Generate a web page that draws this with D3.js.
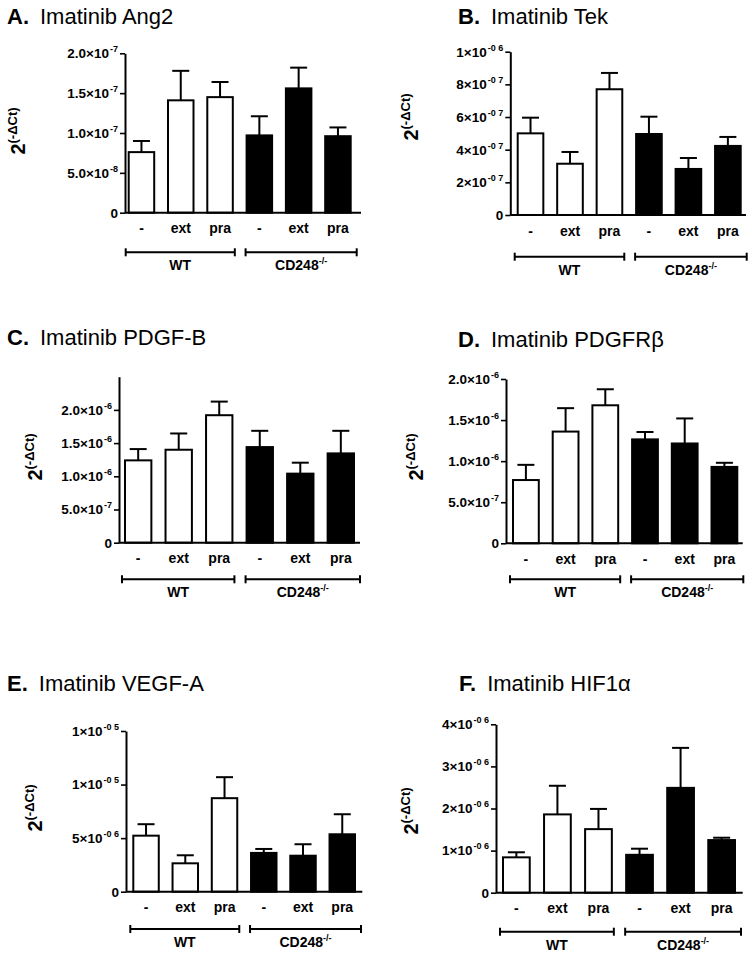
<!DOCTYPE html>
<html>
<head>
<meta charset="utf-8">
<script src="https://cdn.jsdelivr.net/npm/d3@7"></script>
<style>
  body { margin: 0; background: #fff; }
  svg text { font-family: "Liberation Sans", Arial, Helvetica, sans-serif; }
</style>
</head>
<body>
<script>
// categorias y grupos
var categories = ["-", "ext", "pra", "-", "ext", "pra"];
var genotypes = ["WT", "CD248"];

// medias y error (SEM)
var ang2Mean = [0.76e-7, 1.41e-7, 1.45e-7, 0.97e-7, 1.56e-7, 0.96e-7];
var ang2Sem = [0.14e-7, 0.37e-7, 0.19e-7, 0.24e-7, 0.26e-7, 0.11e-7];
var tekMean = [5.0e-7, 3.14e-7, 7.7e-7, 4.96e-7, 2.82e-7, 4.23e-7];
var tekSem = [0.96e-7, 0.72e-7, 1.0e-7, 1.06e-7, 0.67e-7, 0.55e-7];
var pdgfbMean = [1.24e-6, 1.40e-6, 1.92e-6, 1.44e-6, 1.04e-6, 1.345e-6];
var pdgfbSem = [0.17e-6, 0.245e-6, 0.205e-6, 0.245e-6, 0.165e-6, 0.34e-6];
var pdgfrbMean = [0.77e-6, 1.36e-6, 1.68e-6, 1.265e-6, 1.215e-6, 0.93e-6];
var pdgfrbSem = [0.185e-6, 0.285e-6, 0.195e-6, 0.09e-6, 0.305e-6, 0.05e-6];
var vegfaMean = [5.23e-6, 2.65e-6, 8.73e-6, 3.62e-6, 3.36e-6, 5.36e-6];
var vegfaSem = [1.07e-6, 0.75e-6, 1.96e-6, 0.37e-6, 1.07e-6, 1.87e-6];
var hif1aMean = [0.84e-6, 1.86e-6, 1.51e-6, 0.90e-6, 2.49e-6, 1.25e-6];
var hif1aSem = [0.12e-6, 0.68e-6, 0.48e-6, 0.145e-6, 0.95e-6, 0.056e-6];

// ticks del eje y
var ang2Ticks = [0, 5e-8, 1e-7, 1.5e-7, 2e-7];
var ang2Labels = ["0", "5.0×10^-8", "1.0×10^-7", "1.5×10^-7", "2.0×10^-7"];
var tekTicks = [0, 2e-7, 4e-7, 6e-7, 8e-7, 1e-6];
var tekLabels = ["0", "2×10^-0 7", "4×10^-0 7", "6×10^-0 7", "8×10^-0 7", "1×10^-0 6"];
var pdgfbTicks = [0, 5e-7, 1e-6, 1.5e-6, 2e-6];
var pdgfbLabels = ["0", "5.0×10^-7", "1.0×10^-6", "1.5×10^-6", "2.0×10^-6"];
var pdgfrbTicks = [0, 5e-7, 1e-6, 1.5e-6, 2e-6];
var pdgfrbLabels = ["0", "5.0×10^-7", "1.0×10^-6", "1.5×10^-6", "2.0×10^-6"];
var vegfaTicks = [0, 5e-6, 1e-5, 1.5e-5];
var vegfaLabels = ["0", "5×10^-0 6", "1×10^-0 5", "1×10^-0 5"];
var hif1aTicks = [0, 1e-6, 2e-6, 3e-6, 4e-6];
var hif1aLabels = ["0", "1×10^-0 6", "2×10^-0 6", "3×10^-0 6", "4×10^-0 6"];

// paneles: datos + posicion en la pagina
var panels = [
  { letter: "A.", gene: "Imatinib Ang2", mean: ang2Mean, sem: ang2Sem, ymax: 2e-7, ticks: ang2Ticks, labels: ang2Labels,
    titleX: 7, titleY: 24, axisX: 125, top: 53.3, base: 212.7, right: 361, barX0: 127.7, barX1: 351.7, bracketY: 252.3, labX: 25, labY: 131 },
  { letter: "B.", gene: "Imatinib Tek", mean: tekMean, sem: tekSem, ymax: 1e-6, ticks: tekTicks, labels: tekLabels,
    titleX: 458, titleY: 24, axisX: 510.3, top: 51.7, base: 215, right: 746, barX0: 516.7, barX1: 741.7, bracketY: 256.7, labX: 418, labY: 117 },
  { letter: "C.", gene: "Imatinib PDGF-B", mean: pdgfbMean, sem: pdgfbSem, ymax: 2.5e-6, ticks: pdgfbTicks, labels: pdgfbLabels,
    titleX: 7, titleY: 345, axisX: 119, top: 376.7, base: 542.7, right: 360, barX0: 124, barX1: 355, bracketY: 579.3, labX: 42, labY: 457 },
  { letter: "D.", gene: "Imatinib PDGFRβ", mean: pdgfrbMean, sem: pdgfrbSem, ymax: 2e-6, ticks: pdgfrbTicks, labels: pdgfrbLabels,
    titleX: 458, titleY: 346.7, axisX: 506, top: 379, base: 543.3, right: 742.7, barX0: 512, barX1: 738.3, bracketY: 579.3, labX: 423, labY: 457 },
  { letter: "E.", gene: "Imatinib VEGF-A", mean: vegfaMean, sem: vegfaSem, ymax: 1.5e-5, ticks: vegfaTicks, labels: vegfaLabels,
    titleX: 7, titleY: 690.7, axisX: 126, top: 731, base: 891.7, right: 362.3, barX0: 132.3, barX1: 356, bracketY: 929, labX: 42, labY: 808 },
  { letter: "F.", gene: "Imatinib HIF1α", mean: hif1aMean, sem: hif1aSem, ymax: 4e-6, ticks: hif1aTicks, labels: hif1aLabels,
    titleX: 459, titleY: 691, axisX: 496, top: 724.3, base: 892.7, right: 742.7, barX0: 502, barX1: 736, bracketY: 931.7, labX: 418, labY: 811 }
];

var svg = d3.select("body").append("svg")
  .attr("width", 752)
  .attr("height", 955);

panels.forEach(function(p) {
  var g = svg.append("g");
  var rows = p.mean.map(function(m, i) {
    return { i: i, cat: categories[i], mean: m, sem: p.sem[i], wt: i < 3 };
  });

  var x = d3.scaleBand()
    .domain(d3.range(categories.length))
    .range([p.barX0, p.barX1])
    .paddingInner(0.3)
    .paddingOuter(0);
  var y = d3.scaleLinear()
    .domain([0, p.ymax])
    .range([p.base, p.top]);
  var bw = x.bandwidth();

  // titulo
  var title = g.append("text")
    .attr("x", p.titleX)
    .attr("y", p.titleY)
    .attr("font-size", 22)
    .attr("fill", "#000");
  title.append("tspan").attr("font-weight", "bold").text(p.letter);
  title.append("tspan").attr("dx", 11).text(p.gene);

  // barras de error (detras de las barras)
  var err = g.selectAll(".err").data(rows).enter().append("g");
  err.append("line")
    .attr("x1", function(d) { return x(d.i) + bw / 2; })
    .attr("x2", function(d) { return x(d.i) + bw / 2; })
    .attr("y1", function(d) { return y(d.mean); })
    .attr("y2", function(d) { return y(d.mean + d.sem); })
    .attr("stroke", "#000")
    .attr("stroke-width", 2);
  err.append("line")
    .attr("x1", function(d) { return x(d.i) + bw / 2 - 8.5; })
    .attr("x2", function(d) { return x(d.i) + bw / 2 + 8.5; })
    .attr("y1", function(d) { return y(d.mean + d.sem); })
    .attr("y2", function(d) { return y(d.mean + d.sem); })
    .attr("stroke", "#000")
    .attr("stroke-width", 2);

  // barras
  g.selectAll(".bar").data(rows).enter().append("rect")
    .attr("x", function(d) { return x(d.i) + 1; })
    .attr("y", function(d) { return y(d.mean); })
    .attr("width", bw - 2)
    .attr("height", function(d) { return p.base - y(d.mean); })
    .attr("fill", function(d) { return d.wt ? "#fff" : "#000"; })
    .attr("stroke", "#000")
    .attr("stroke-width", 2);

  // eje y
  var yAxis = d3.axisLeft(y)
    .tickValues(p.ticks)
    .tickSize(5)
    .tickSizeOuter(0)
    .tickPadding(2)
    .tickFormat("");
  var gy = g.append("g")
    .attr("transform", "translate(" + p.axisX + ",0)")
    .call(yAxis);
  gy.select(".domain").attr("stroke-width", 2);
  gy.selectAll(".tick line").attr("stroke-width", 1.6);
  gy.selectAll(".tick text")
    .attr("font-size", 13.5)
    .attr("font-weight", "bold")
    .attr("font-family", "Liberation Sans, Arial, sans-serif")
    .attr("fill", "#000")
    .each(function(d, i) {
      var parts = p.labels[i].split("^");
      var t = d3.select(this);
      t.append("tspan").text(parts[0]);
      if (parts[1]) {
        t.append("tspan").attr("font-size", 9).attr("dy", -6).attr("dx", 1).text(parts[1]);
      }
    });

  // eje x: linea base y categorias
  g.append("line")
    .attr("x1", p.axisX)
    .attr("x2", p.right)
    .attr("y1", p.base)
    .attr("y2", p.base)
    .attr("stroke", "#000")
    .attr("stroke-width", 2);
  var xAxis = d3.axisBottom(x)
    .tickSize(0)
    .tickFormat(function(i) { return categories[i]; });
  var gx = g.append("g")
    .attr("transform", "translate(0," + p.base + ")")
    .call(xAxis);
  gx.select(".domain").remove();
  gx.selectAll(".tick text")
    .attr("y", 20.5)
    .attr("dy", 0)
    .attr("font-size", 14)
    .attr("font-weight", "bold")
    .attr("font-family", "Liberation Sans, Arial, sans-serif")
    .attr("fill", "#000");

  // corchetes de genotipo
  var spans = [
    [x(0) - 2, x(2) + bw + 1],
    [x(3), x(5) + bw + 5]
  ];
  spans.forEach(function(s, k) {
    var b = g.append("g");
    b.append("line").attr("x1", s[0]).attr("x2", s[1])
      .attr("y1", p.bracketY).attr("y2", p.bracketY)
      .attr("stroke", "#000").attr("stroke-width", 2);
    [s[0], s[1]].forEach(function(xx) {
      b.append("line").attr("x1", xx).attr("x2", xx)
        .attr("y1", p.bracketY - 4).attr("y2", p.bracketY + 4)
        .attr("stroke", "#000").attr("stroke-width", 2);
    });
    var lab = b.append("text")
      .attr("x", (s[0] + s[1]) / 2)
      .attr("y", p.bracketY + 18)
      .attr("text-anchor", "middle")
      .attr("font-size", 14)
      .attr("font-weight", "bold");
    lab.append("tspan").text(genotypes[k]);
    if (k == 1) {
      lab.append("tspan").attr("font-size", 9).attr("dy", -6).text("-/-");
    }
  });

  // etiqueta eje y
  var yl = g.append("text")
    .attr("transform", "translate(" + p.labX + "," + p.labY + ") rotate(-90)")
    .attr("text-anchor", "middle")
    .attr("font-weight", "bold");
  yl.append("tspan").attr("font-size", 20).text("2");
  yl.append("tspan").attr("font-size", 13).attr("dy", -8).text("(-ΔCt)");
});
</script>
</body>
</html>
